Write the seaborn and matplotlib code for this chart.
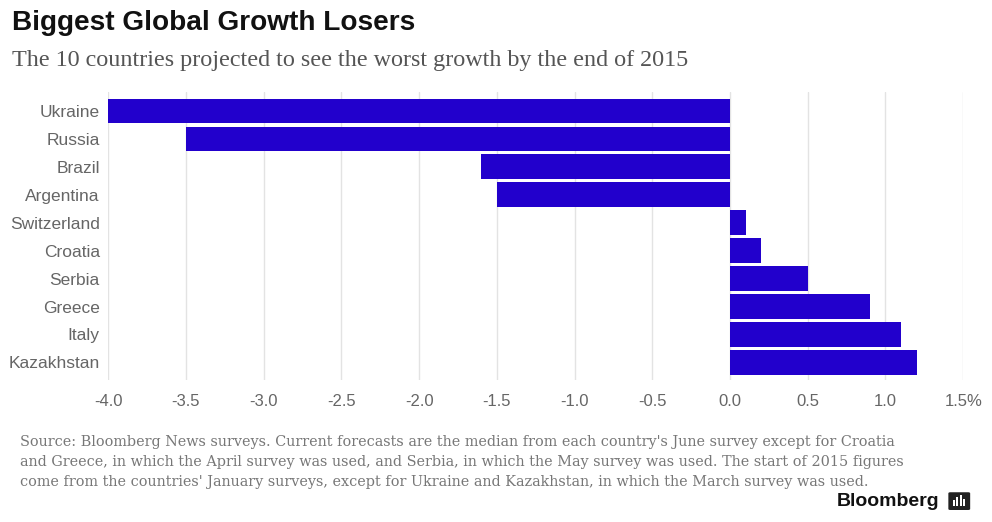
import matplotlib
matplotlib.use("Agg")
import matplotlib.pyplot as plt
from matplotlib.patches import FancyBboxPatch, Rectangle
import seaborn as sns
import pandas as pd
import numpy as np

countries = ["Ukraine", "Russia", "Brazil", "Argentina", "Switzerland",
             "Croatia", "Serbia", "Greece", "Italy", "Kazakhstan"]
growth = [-4.0, -3.5, -1.6, -1.5, 0.1, 0.2, 0.5, 0.9, 1.1, 1.2]
xticks = [-4.0, -3.5, -3.0, -2.5, -2.0, -1.5, -1.0, -0.5, 0.0, 0.5, 1.0, 1.5]
xtick_labels = ["-4.0", "-3.5", "-3.0", "-2.5", "-2.0", "-1.5", "-1.0",
                "-0.5", "0.0", "0.5", "1.0", "1.5%"]

title = "Biggest Global Growth Losers"
subtitle = "The 10 countries projected to see the worst growth by the end of 2015"
footnote = ("Source: Bloomberg News surveys. Current forecasts are the median from each country's June survey except for Croatia\n"
            "and Greece, in which the April survey was used, and Serbia, in which the May survey was used. The start of 2015 figures\n"
            "come from the countries' January surveys, except for Ukraine and Kazakhstan, in which the March survey was used.")

df = pd.DataFrame({"country": countries, "growth": growth})

sns.set_style("white")
plt.rcParams["font.family"] = ["Liberation Sans", "DejaVu Sans"]

fig = plt.figure(figsize=(9.92, 5.22), dpi=100)
ax = fig.add_axes([0.109, 0.272, 0.862, 0.552])

sns.barplot(data=df, x="growth", y="country", orient="h", color="#2200cc",
            saturation=1, width=0.88, edgecolor="none", ax=ax)

ax.set_xlim(-4.0, 1.5)
ax.set_ylim(9.63, -0.68)
ax.set_xticks(xticks)
ax.set_xticklabels(xtick_labels)
ax.grid(axis="x", color="#e3e3e3", linewidth=1)
ax.set_axisbelow(True)
ax.set_xlabel("")
ax.set_ylabel("")
for s in ax.spines.values():
    s.set_visible(False)
ax.tick_params(axis="both", length=0, labelsize=12, labelcolor="#666666")
ax.tick_params(axis="y", pad=6, labelsize=12.5)
ax.tick_params(axis="x", pad=10)

fig.text(0.012, 0.956, title, fontsize=20.2, fontweight="bold", color="#111111",
         va="center", ha="left")
fig.text(0.012, 0.884, subtitle, fontsize=17.4, color="#555555",
         family=["Liberation Serif"], va="center", ha="left")
fig.text(0.02, 0.166, footnote, fontsize=10.4, color="#777777",
         family=["DejaVu Serif"], va="top", ha="left", linespacing=1.55)
fig.text(0.947, 0.04, "Bloomberg", fontsize=14, fontweight="bold",
         color="#111111", va="center", ha="right")

# small logo box
logo = FancyBboxPatch((0.958, 0.025), 0.018, 0.03, boxstyle="round,pad=0.002",
                      transform=fig.transFigure, facecolor="#222222",
                      edgecolor="none")
fig.patches.append(logo)
for i, h in enumerate([0.012, 0.018, 0.022, 0.015]):
    fig.patches.append(Rectangle((0.9605 + i * 0.0035, 0.03), 0.002, h,
                                 transform=fig.transFigure,
                                 facecolor="white", edgecolor="none"))

fig.savefig("out.png", dpi=100)
